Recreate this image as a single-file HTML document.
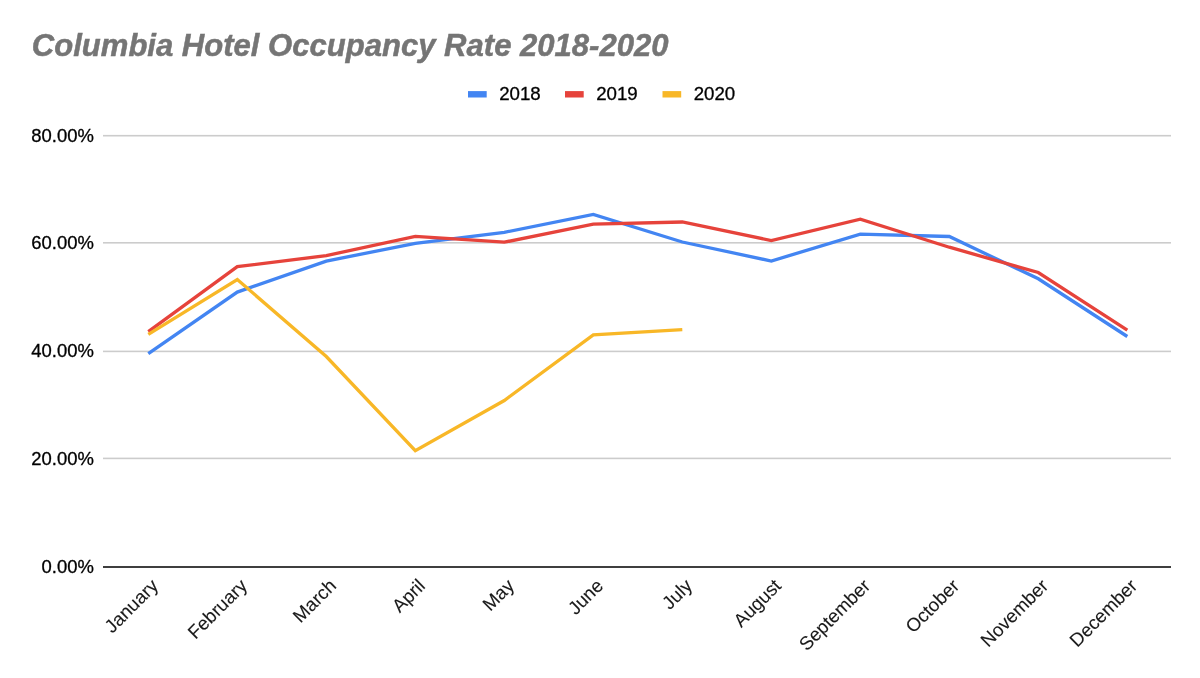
<!DOCTYPE html><html><head><meta charset="utf-8"><title>Chart</title><style>
html,body{margin:0;padding:0;background:#fff;overflow:hidden;}svg{display:block;position:absolute;left:0;top:0;will-change:transform;}text{font-family:"Liberation Sans",sans-serif;}
</style></head><body>
<svg width="1200" height="678" viewBox="0 0 1200 678">
<rect width="1200" height="678" fill="#ffffff"/>
<text x="31.8" y="55.5" font-size="31.05" font-weight="bold" font-style="italic" fill="#757575" stroke="#757575" stroke-width="0.5">Columbia Hotel Occupancy Rate 2018-2020</text>
<rect x="468" y="91.1" width="18.7" height="6.4" fill="#4385f2"/>
<text x="499.2" y="99.8" font-size="18.7" fill="#000" stroke="#000" stroke-width="0.3">2018</text>
<rect x="565" y="91.1" width="18.7" height="6.4" fill="#e6433b"/>
<text x="596.2" y="99.8" font-size="18.7" fill="#000" stroke="#000" stroke-width="0.3">2019</text>
<rect x="662.5" y="91.1" width="18.7" height="6.4" fill="#f8b727"/>
<text x="693.7" y="99.8" font-size="18.7" fill="#000" stroke="#000" stroke-width="0.3">2020</text>
<rect x="103" y="134.9" width="1068" height="1.6" fill="#cccccc"/>
<rect x="103" y="242.0" width="1068" height="1.6" fill="#cccccc"/>
<rect x="103" y="350.6" width="1068" height="1.6" fill="#cccccc"/>
<rect x="103" y="457.6" width="1068" height="1.6" fill="#cccccc"/>
<text x="93.9" y="141.5" font-size="18.45" text-anchor="end" fill="#000" stroke="#000" stroke-width="0.3">80.00%</text>
<text x="93.9" y="249.3" font-size="18.45" text-anchor="end" fill="#000" stroke="#000" stroke-width="0.3">60.00%</text>
<text x="93.9" y="357.2" font-size="18.45" text-anchor="end" fill="#000" stroke="#000" stroke-width="0.3">40.00%</text>
<text x="93.9" y="465.1" font-size="18.45" text-anchor="end" fill="#000" stroke="#000" stroke-width="0.3">20.00%</text>
<text x="93.9" y="572.9" font-size="18.45" text-anchor="end" fill="#000" stroke="#000" stroke-width="0.3">0.00%</text>
<polyline fill="none" stroke="#4385f2" stroke-width="3.3" stroke-linejoin="miter" points="148.3,353.7 237.3,292.1 326.3,261.1 415.3,243.3 504.3,232.3 593.3,214.5 682.3,242.0 771.3,261.0 860.3,234.2 949.3,236.5 1038.3,278.8 1127.3,336.5"/>
<polyline fill="none" stroke="#e6433b" stroke-width="3.3" stroke-linejoin="miter" points="148.3,331.6 237.3,266.7 326.3,255.6 415.3,236.3 504.3,242.2 593.3,224.2 682.3,222.0 771.3,240.5 860.3,219.2 949.3,247.2 1038.3,272.5 1127.3,330.1"/>
<polyline fill="none" stroke="#f8b727" stroke-width="3.3" stroke-linejoin="miter" points="148.3,334.3 237.3,279.5 326.3,356.5 415.3,450.7 504.3,400.5 593.3,334.9 682.3,329.6"/>
<rect x="103" y="566.0" width="1068" height="2" fill="#3f3f3f"/>
<text transform="translate(159.3,587) rotate(-45)" font-size="18.7" text-anchor="end" fill="#1a1a1a" stroke="#1a1a1a" stroke-width="0.1">January</text>
<text transform="translate(248.3,587) rotate(-45)" font-size="18.7" text-anchor="end" fill="#1a1a1a" stroke="#1a1a1a" stroke-width="0.1">February</text>
<text transform="translate(337.3,587) rotate(-45)" font-size="18.7" text-anchor="end" fill="#1a1a1a" stroke="#1a1a1a" stroke-width="0.1">March</text>
<text transform="translate(426.3,587) rotate(-45)" font-size="18.7" text-anchor="end" fill="#1a1a1a" stroke="#1a1a1a" stroke-width="0.1">April</text>
<text transform="translate(515.3,587) rotate(-45)" font-size="18.7" text-anchor="end" fill="#1a1a1a" stroke="#1a1a1a" stroke-width="0.1">May</text>
<text transform="translate(604.3,587) rotate(-45)" font-size="18.7" text-anchor="end" fill="#1a1a1a" stroke="#1a1a1a" stroke-width="0.1">June</text>
<text transform="translate(693.3,587) rotate(-45)" font-size="18.7" text-anchor="end" fill="#1a1a1a" stroke="#1a1a1a" stroke-width="0.1">July</text>
<text transform="translate(782.3,587) rotate(-45)" font-size="18.7" text-anchor="end" fill="#1a1a1a" stroke="#1a1a1a" stroke-width="0.1">August</text>
<text transform="translate(871.3,587) rotate(-45)" font-size="18.7" text-anchor="end" fill="#1a1a1a" stroke="#1a1a1a" stroke-width="0.1">September</text>
<text transform="translate(960.3,587) rotate(-45)" font-size="18.7" text-anchor="end" fill="#1a1a1a" stroke="#1a1a1a" stroke-width="0.1">October</text>
<text transform="translate(1049.3,587) rotate(-45)" font-size="18.7" text-anchor="end" fill="#1a1a1a" stroke="#1a1a1a" stroke-width="0.1">November</text>
<text transform="translate(1138.3,587) rotate(-45)" font-size="18.7" text-anchor="end" fill="#1a1a1a" stroke="#1a1a1a" stroke-width="0.1">December</text>
</svg></body></html>
